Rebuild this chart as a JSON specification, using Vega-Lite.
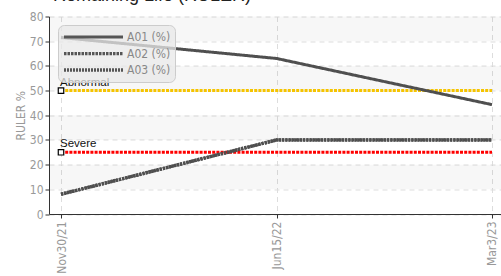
{
  "$schema": "https://vega.github.io/schema/vega-lite/v6.json",
  "width": 455,
  "height": 197.5,
  "autosize": {"type": "none"},
  "padding": {"left": 49, "top": 16.5, "right": 0, "bottom": 62},
  "background": "white",
  "title": {
    "text": "Remaining Life (RULER)",
    "anchor": "start",
    "frame": "group",
    "fontSize": 18,
    "font": "Liberation Sans",
    "fontWeight": "normal",
    "color": "#222",
    "offset": 6,
    "dx": 4
  },
  "config": {
    "view": {"stroke": null},
    "axis": {
      "labelFont": "DejaVu Sans Condensed",
      "titleFont": "DejaVu Sans Condensed",
      "labelColor": "#999",
      "titleColor": "#999",
      "labelFontSize": 12,
      "titleFontSize": 12,
      "titleFontWeight": "normal",
      "domainColor": "#333",
      "tickColor": "#333",
      "gridColor": "#ddd",
      "gridDash": [5, 4],
      "tickSize": 4
    },
    "axisY": {"tickCount": 8, "labelPadding": 2, "titlePadding": 2, "labelOverlap": false}
  },
  "datasets": {
    "bands": [
      {"lo": 10, "hi": 20},
      {"lo": 30, "hi": 40},
      {"lo": 50, "hi": 60},
      {"lo": 70, "hi": 80}
    ],
    "series": [
      {"series": "A01 (%)", "date": "Nov30/21", "value": 71.5},
      {"series": "A01 (%)", "date": "Jun15/22", "value": 63},
      {"series": "A01 (%)", "date": "Mar3/23", "value": 44.3},
      {"series": "A02 (%)", "date": "Nov30/21", "value": 8},
      {"series": "A02 (%)", "date": "Jun15/22", "value": 30},
      {"series": "A02 (%)", "date": "Mar3/23", "value": 30},
      {"series": "A03 (%)", "date": "Nov30/21", "value": 8},
      {"series": "A03 (%)", "date": "Jun15/22", "value": 30},
      {"series": "A03 (%)", "date": "Mar3/23", "value": 30}
    ],
    "thresholds": [
      {"level": "Abnormal", "date": "Nov30/21", "value": 50},
      {"level": "Abnormal", "date": "Jun15/22", "value": 50},
      {"level": "Abnormal", "date": "Mar3/23", "value": 50},
      {"level": "Severe", "date": "Nov30/21", "value": 25},
      {"level": "Severe", "date": "Jun15/22", "value": 25},
      {"level": "Severe", "date": "Mar3/23", "value": 25}
    ]
  },
  "layer": [
    {
      "data": {"name": "bands"},
      "mark": {"type": "rect", "fill": "#000", "fillOpacity": 0.03},
      "encoding": {
        "y": {"field": "hi", "type": "quantitative", "scale": {"domain": [0, 80], "nice": false},
          "axis": {"title": "RULER %", "grid": true}},
        "y2": {"field": "lo"}
      }
    },
    {
      "data": {"name": "thresholds"},
      "mark": {"type": "line", "strokeWidth": 3, "strokeDash": [3, 1.2], "strokeCap": "butt"},
      "encoding": {
        "x": {"field": "date", "type": "ordinal", "sort": ["Nov30/21", "Jun15/22", "Mar3/23"],
          "scale": {"type": "point", "padding": 0.0557},
          "axis": {"title": null, "labelAngle": 270, "grid": true, "labelPadding": 3}},
        "y": {"field": "value", "type": "quantitative"},
        "stroke": {"field": "level", "type": "nominal",
          "scale": {"domain": ["Abnormal", "Severe"], "range": ["#f5c400", "#ff0000"]},
          "legend": null}
      }
    },
    {
      "data": {"name": "series"},
      "mark": {"type": "line", "color": "#4f4f4f", "strokeCap": "butt"},
      "encoding": {
        "x": {"field": "date", "type": "ordinal", "sort": ["Nov30/21", "Jun15/22", "Mar3/23"]},
        "y": {"field": "value", "type": "quantitative"},
        "detail": {"field": "series"},
        "strokeDash": {"field": "series", "type": "nominal",
          "scale": {"domain": ["A01 (%)", "A02 (%)", "A03 (%)"], "range": [[1, 0], [2.5, 1], [2, 1]]},
          "legend": {
            "title": null,
            "orient": "none",
            "legendX": 9,
            "legendY": 8.5,
            "symbolType": "stroke",
            "symbolSize": 3481,
            "symbolStrokeColor": "#555",
            "clipHeight": 16,
            "rowPadding": 0.5,
            "labelFont": "DejaVu Sans Condensed",
            "labelFontSize": 12,
            "labelColor": "#888",
            "labelOffset": 2,
            "fillColor": "rgba(232,232,232,0.75)",
            "strokeColor": "#ccc",
            "cornerRadius": 6,
            "padding": 4
          }
        },
        "strokeWidth": {"field": "series", "type": "nominal",
          "scale": {"domain": ["A01 (%)", "A02 (%)", "A03 (%)"], "range": [3, 3.5, 2.5]},
          "legend": null}
      }
    },
    {
      "data": {"name": "thresholds"},
      "transform": [{"filter": "datum.date === 'Nov30/21'"}],
      "mark": {"type": "point", "shape": "square", "size": 30, "filled": false, "fill": "white", "stroke": "black", "strokeWidth": 1.2, "opacity": 1},
      "encoding": {
        "x": {"field": "date", "type": "ordinal", "sort": ["Nov30/21", "Jun15/22", "Mar3/23"]},
        "y": {"field": "value", "type": "quantitative"}
      }
    },
    {
      "data": {"name": "thresholds"},
      "transform": [{"filter": "datum.date === 'Nov30/21'"}],
      "mark": {"type": "text", "align": "left", "baseline": "alphabetic", "dy": -5, "dx": -1, "fontSize": 11.5, "font": "Liberation Sans", "color": "#111"},
      "encoding": {
        "x": {"field": "date", "type": "ordinal", "sort": ["Nov30/21", "Jun15/22", "Mar3/23"]},
        "y": {"field": "value", "type": "quantitative"},
        "text": {"field": "level"}
      }
    }
  ]
}
